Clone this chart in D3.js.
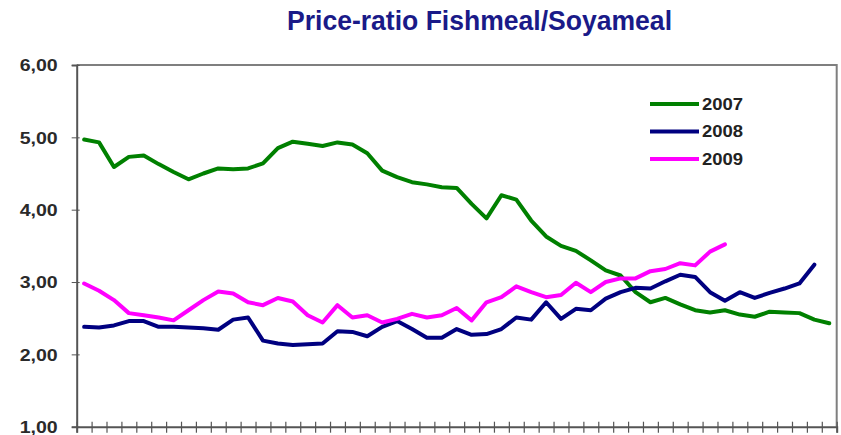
<!DOCTYPE html>
<html><head><meta charset="utf-8">
<script src="https://cdn.jsdelivr.net/npm/d3@7"></script>
<style>body{margin:0;background:#fff;}svg{display:block;font-family:"Liberation Sans",Arial,sans-serif;}</style>
</head><body><svg id="c" width="841" height="435"></svg>
<script>
const title = "Price-ratio Fishmeal/Soyameal";
const weeks = [1,2,3,4,5,6,7,8,9,10,11,12,13,14,15,16,17,18,19,20,21,22,23,24,25,26,27,28,29,30,31,32,33,34,35,36,37,38,39,40,41,42,43,44,45,46,47,48,49,50,51];
const yTicks = [1,2,3,4,5,6];
const seriesNames = ["2007","2008","2009"];
const y2007 = [4.97,4.93,4.59,4.73,4.75,4.63,4.52,4.42,4.50,4.57,4.56,4.57,4.64,4.85,4.94,4.91,4.88,4.93,4.90,4.78,4.54,4.45,4.38,4.35,4.31,4.30,4.08,3.88,4.20,4.14,3.85,3.63,3.50,3.43,3.30,3.16,3.09,2.86,2.72,2.78,2.69,2.61,2.58,2.61,2.55,2.52,2.59,2.58,2.57,2.48,2.43];
const y2008 = [2.38,2.37,2.40,2.46,2.46,2.38,2.38,2.37,2.36,2.34,2.48,2.51,2.19,2.15,2.13,2.14,2.15,2.32,2.31,2.25,2.38,2.46,2.35,2.23,2.23,2.35,2.27,2.28,2.35,2.51,2.48,2.72,2.49,2.63,2.61,2.77,2.86,2.92,2.91,3.01,3.10,3.07,2.86,2.74,2.86,2.78,2.85,2.91,2.98,3.24];
const y2009 = [2.98,2.88,2.75,2.57,2.54,2.51,2.47,2.61,2.75,2.87,2.84,2.72,2.68,2.78,2.73,2.54,2.44,2.68,2.51,2.54,2.44,2.49,2.56,2.51,2.54,2.64,2.47,2.72,2.79,2.94,2.86,2.79,2.82,2.99,2.86,3.00,3.05,3.05,3.15,3.18,3.26,3.23,3.42,3.52];
const colors = ["#008000","#000080","#ff00ff"];

const svg = d3.select("#c");
const L = 76.7, R = 836.7, T = 65, B = 426.7;
const x = d3.scaleLinear().domain([0, weeks.length]).range([L, R]);
const y = d3.scaleLinear().domain([1, 6]).range([B, T]);

// title
svg.append("text").attr("x", 479.5).attr("y", 30).attr("text-anchor","middle")
  .attr("font-size", 27).attr("font-weight","bold").attr("fill","#1a1a88")
  .attr("textLength", 385).attr("lengthAdjust","spacingAndGlyphs").text(title);

// frame (top + right)
svg.append("path").attr("d", `M${L},${T}H${R}V${B}`).attr("fill","none")
  .attr("stroke","#7f7f7f").attr("stroke-width",2);

// y axis
const gy = svg.append("g").attr("transform",`translate(${L},0)`)
  .call(d3.axisLeft(y).tickValues(yTicks).tickSize(5).tickPadding(0)
    .tickFormat(d => d3.format(".2f")(d).replace(".", ",")));
gy.select(".domain").attr("stroke","#555").attr("stroke-width",2);
gy.selectAll(".tick line").attr("stroke","#555").attr("stroke-width",1).attr("x1",3).attr("x2",-5);
gy.selectAll(".tick text").attr("x",-19).attr("dy","0.36em").attr("font-size",16).attr("font-weight","bold")
  .attr("fill","#2a2a2a").attr("font-family","Liberation Sans, Arial, sans-serif")
  .attr("textLength",38).attr("lengthAdjust","spacingAndGlyphs");

// x axis
const gx = svg.append("g").attr("transform",`translate(0,${B})`)
  .call(d3.axisBottom(x).tickValues(d3.range(0, weeks.length + 1)).tickSize(6).tickFormat(""));
gx.select(".domain").attr("stroke","#555").attr("stroke-width",2);
gx.selectAll(".tick line").attr("stroke","#555").attr("stroke-width",1.2).attr("y1",-5).attr("y2",6);

// lines
const line = d3.line().x((d,i) => x(i + 0.5)).y(d => y(d)).curve(d3.curveLinear);
[y2007, y2008, y2009].forEach((s, k) => {
  svg.append("path").datum(s).attr("d", line).attr("fill","none")
    .attr("stroke", colors[k]).attr("stroke-width", 4).attr("stroke-linejoin","round").attr("stroke-linecap","round");
});

// legend
const lg = svg.append("g");
seriesNames.forEach((n, k) => {
  const cy = 104 + k * 27.5;
  lg.append("line").attr("x1",650).attr("x2",699).attr("y1",cy).attr("y2",cy)
    .attr("stroke",colors[k]).attr("stroke-width",4);
  lg.append("text").attr("x",702).attr("y",cy).attr("dy","0.36em").attr("font-size",16).attr("font-weight","bold")
    .attr("fill","#222").attr("textLength",41).attr("lengthAdjust","spacingAndGlyphs").text(n);
});
</script></body></html>
